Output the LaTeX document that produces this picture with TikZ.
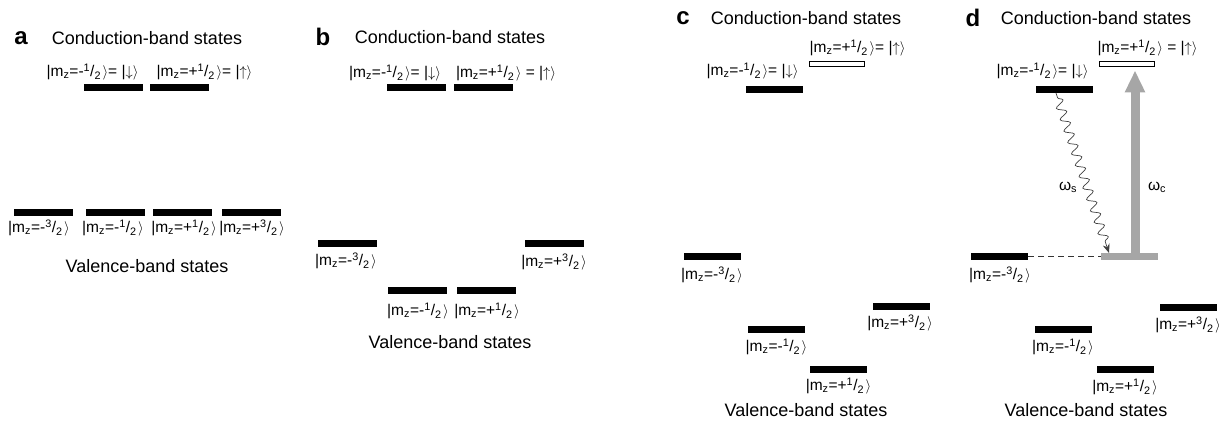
\documentclass[tikz,border=0pt]{standalone}
\usepackage{fontspec}
\setmainfont{Liberation Sans}
\usetikzlibrary{arrows.meta,decorations.pathmorphing,calc}
\definecolor{barg}{HTML}{A6A6A6}
\newcommand{\mzk}[2]{|m\textsubscript{z}=#1\textsuperscript{#2}/\textsubscript{2}\kern0.1em$\rangle$}
\newcommand{\kdn}{|$\downarrow\rangle$}
\newcommand{\kup}{|$\uparrow\rangle$}
\begin{document}
\begin{tikzpicture}[x=1pt,y=-1pt,
  bar/.style={fill=black, minimum width=59pt, minimum height=7pt, inner sep=0pt, outer sep=0pt},
  barn/.style={bar, minimum width=57pt},
  hbar/.style={draw=black, fill=white, line width=0.9pt, minimum width=55pt, minimum height=5pt, inner sep=0pt},
  gbar/.style={fill=barg, minimum width=57pt, minimum height=7pt, inner sep=0pt, outer sep=0pt},
  lab/.style={font=\fontsize{15.5}{17}\selectfont, inner sep=0pt},
  ttl/.style={font=\fontsize{18}{20}\selectfont, inner sep=0pt},
  plet/.style={font=\fontsize{24}{26}\selectfont\bfseries, inner sep=0pt}]
\useasboundingbox (0,0) rectangle (1230,424);

% ---------- panel a ----------
\node[plet] (la) at (21,38) {a};
\node[ttl] (ta) at (147,38) {Conduction-band states};
\node[lab] (a1l) at (92.5,72) {\mzk{-}{1}= \kdn};
\node[lab] (a2l) at (204.5,72) {\mzk{+}{1}= \kup};
\node[bar] (a1) at (113,87.5) {};
\node[bar] (a2) at (179.5,87.5) {};
\node[bar] (av1) at (43.5,212) {};
\node[bar] (av2) at (115.5,212) {};
\node[bar] (av3) at (182.5,212) {};
\node[bar] (av4) at (251.5,212) {};
\node[lab] (av1l) at (39,228) {\mzk{-}{3}};
\node[lab] (av2l) at (113,228) {\mzk{-}{1}};
\node[lab] (av3l) at (184,228) {\mzk{+}{1}};
\node[lab] (av4l) at (252,228) {\mzk{+}{3}};
\node[ttl] (va) at (147,266) {Valence-band states};

% ---------- panel b ----------
\node[plet] (lb) at (323,37) {b};
\node[ttl] (tb) at (450,37) {Conduction-band states};
\node[lab] (b1l) at (395,73) {\mzk{-}{1}= \kdn};
\node[lab] (b2l) at (506,73) {\mzk{+}{1} = \kup};
\node[bar] (b1) at (416,87.5) {};
\node[bar] (b2) at (483,87.5) {};
\node[bar] (bv1) at (347,243.5) {};
\node[lab] (bv1l) at (346,261) {\mzk{-}{3}};
\node[bar] (bv4) at (554.5,243.5) {};
\node[lab] (bv4l) at (554,262) {\mzk{+}{3}};
\node[bar] (bv2) at (417,290.5) {};
\node[lab] (bv2l) at (418,311) {\mzk{-}{1}};
\node[bar] (bv3) at (486,290.5) {};
\node[lab] (bv3l) at (487,311) {\mzk{+}{1}};
\node[ttl] (vb) at (450,342) {Valence-band states};

% ---------- panel c ----------
\node[plet] (lc) at (683,18) {c};
\node[ttl] (tc) at (806,18) {Conduction-band states};
\node[lab] (c2l) at (857.5,48) {\mzk{+}{1}= \kup};
\node[hbar] (c2) at (837,63.5) {};
\node[lab] (c1l) at (752.5,71) {\mzk{-}{1}= \kdn};
\node[barn] (c1) at (774,89.5) {};
\node[barn] (cv1) at (712.5,256.5) {};
\node[lab] (cv1l) at (712,275) {\mzk{-}{3}};
\node[barn] (cv4) at (901,306) {};
\node[lab] (cv4l) at (900,323) {\mzk{+}{3}};
\node[barn] (cv2) at (776.5,329.5) {};
\node[lab] (cv2l) at (776.5,347) {\mzk{-}{1}};
\node[barn] (cv3) at (838.5,369) {};
\node[lab] (cv3l) at (838.5,386) {\mzk{+}{1}};
\node[ttl] (vc) at (806,410) {Valence-band states};

% ---------- panel d ----------
\node[plet] (ld) at (973,18) {d};
\node[ttl] (td) at (1096,18) {Conduction-band states};
\node[lab] (d2l) at (1147.5,48) {\mzk{+}{1} = \kup};
\node[hbar] (d2) at (1126.5,63.5) {};
\node[lab] (d1l) at (1042.5,71) {\mzk{-}{1}= \kdn};
\node[barn] (d1) at (1064,89.5) {};
\node[barn] (dv1) at (999.5,256.5) {};
\node[lab] (dv1l) at (1000,275) {\mzk{-}{3}};
\node[gbar] (dg) at (1129.5,256.5) {};
\node[barn] (dv4) at (1188,307) {};
\node[lab] (dv4l) at (1188,325) {\mzk{+}{3}};
\node[barn] (dv2) at (1063.5,329.5) {};
\node[lab] (dv2l) at (1063,347) {\mzk{-}{1}};
\node[barn] (dv3) at (1125.5,369) {};
\node[lab] (dv3l) at (1125,387) {\mzk{+}{1}};
\node[ttl] (vd) at (1086,410) {Valence-band states};

% connectors in d
\draw[dashed, dash pattern=on 6pt off 4pt, line width=0.8pt, black!80] (dv1.east) -- (dg.west);
\coordinate (shx) at (1135,0);
\draw[barg, line width=9pt, -{Triangle[width=19pt,length=22pt]}] (dg.north -| shx) -- ($(d2.south -| shx)+(0,4)$);
\coordinate (ws0) at (1056,93);
\coordinate (ws1) at (1109,252);
\draw[line width=0.7pt, black!75, -{Stealth[length=9pt,width=7pt]},
  decorate, decoration={snake, amplitude=4.5pt, segment length=12pt, pre length=5pt, post length=8pt}]
  (d1.south -| ws0) -- (dg.north -| ws1);
\node[lab] (ws) at (1068,187) {ω\textsubscript{s}};
\node[lab] (wc) at (1157,187) {ω\textsubscript{c}};
\end{tikzpicture}
\end{document}
